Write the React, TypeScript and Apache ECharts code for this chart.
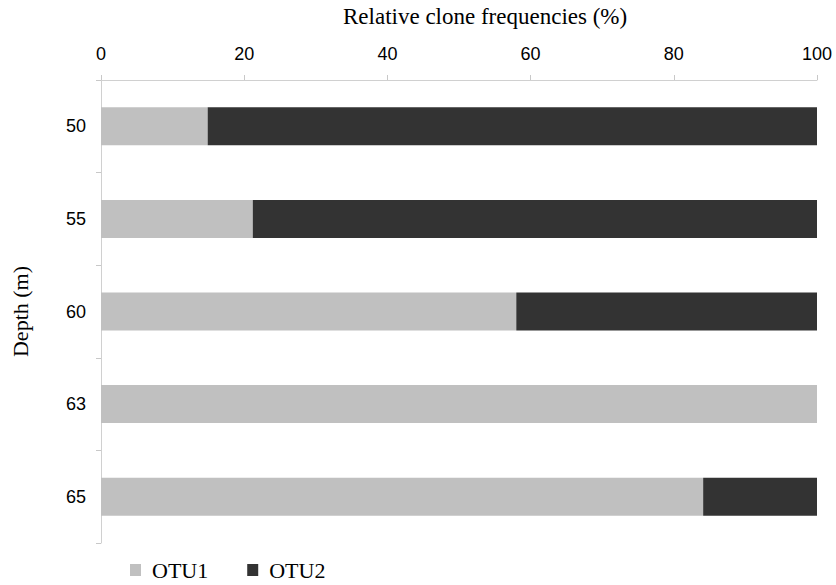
import React, { useEffect, useRef } from "react";
import * as echarts from "echarts";

const depths = ["50", "55", "60", "63", "65"];
const otu1 = [14.9, 21.2, 58, 100, 84.1];
const otu2 = [85.1, 78.8, 42, 0, 15.9];
const xTicks = [0, 20, 40, 60, 80, 100];

export default function App() {
  const ref = useRef<HTMLDivElement>(null);
  useEffect(() => {
    if (!ref.current) return;
    const chart = echarts.init(ref.current, null, { renderer: "svg" });
    const serif = "Liberation Serif, DejaVu Serif, serif";
    const sans = "Liberation Sans, Arial, sans-serif";
    chart.setOption({
      animation: false,
      backgroundColor: "#ffffff",
      title: {
        text: "Relative clone frequencies (%)",
        left: 338,
        top: 0,
        textStyle: { fontFamily: serif, fontSize: 23, fontWeight: "normal", color: "#000" },
      },
      grid: { left: 101, right: 19, top: 80, bottom: 42 },
      legend: {
        left: 125,
        top: 553,
        icon: "rect",
        itemWidth: 11,
        itemHeight: 12,
        itemGap: 39,
        textStyle: { fontFamily: serif, fontSize: 22, lineHeight: 24, color: "#000", padding: [0, 0, 0, 6] },
        data: ["OTU1", "OTU2"],
      },
      xAxis: {
        type: "value",
        position: "top",
        min: xTicks[0],
        max: xTicks[xTicks.length - 1],
        interval: 20,
        axisLine: { show: true, lineStyle: { color: "#d0d0d0", width: 1 } },
        axisTick: { show: true, length: 5, lineStyle: { color: "#c8c8c8" } },
        axisLabel: { fontFamily: sans, fontSize: 18, color: "#000", margin: 17 },
        splitLine: { show: false },
      },
      yAxis: {
        type: "category",
        data: depths,
        inverse: true,
        name: "Depth (m)",
        nameLocation: "middle",
        nameGap: 70,
        nameRotate: 90,
        nameTextStyle: { fontFamily: serif, fontSize: 22, color: "#000" },
        axisLine: { show: true, lineStyle: { color: "#d0d0d0", width: 1 } },
        axisTick: { show: true, length: 5, alignWithLabel: false, lineStyle: { color: "#c8c8c8" } },
        axisLabel: { fontFamily: sans, fontSize: 18, color: "#000", margin: 15 },
        splitLine: { show: false },
      },
      series: [
        {
          name: "OTU1",
          type: "bar",
          stack: "total",
          data: otu1,
          barWidth: 38,
          itemStyle: { color: "#c0c0c0" },
        },
        {
          name: "OTU2",
          type: "bar",
          stack: "total",
          data: otu2,
          barWidth: 38,
          itemStyle: { color: "#333333" },
        },
      ],
    });
    return () => chart.dispose();
  }, []);
  return (
    <div
      ref={ref}
      style={{ position: "fixed", left: 0, top: 0, width: 836, height: 585 }}
    />
  );
}
